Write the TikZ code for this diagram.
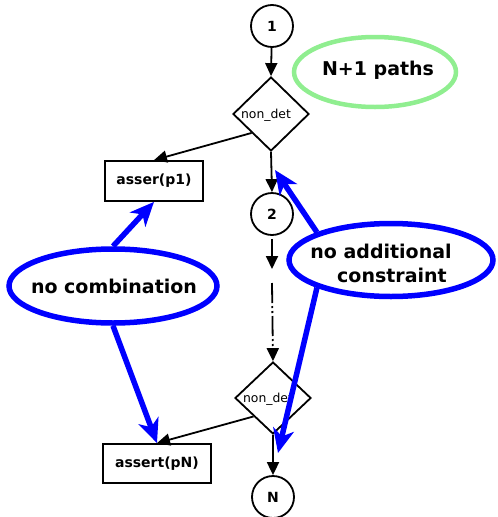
\documentclass[tikz,border=0pt]{standalone}
\usepackage{fontspec}
\setmainfont{DejaVu Sans}
\usetikzlibrary{shapes.geometric,arrows.meta,calc}
\definecolor{lgreen}{RGB}{144,238,144}
\begin{document}
\begin{tikzpicture}[x=1pt,y=-1pt,
  circ/.style={draw,circle,line width=1.8pt,minimum size=42pt,inner sep=0pt,font=\fontsize{14}{16}\selectfont\bfseries},
  dia/.style={draw,diamond,line width=1.8pt,minimum width=76pt,minimum height=74pt,inner sep=0pt},
  dtext/.style={font=\fontsize{12.4}{14}\selectfont,inner sep=0pt},
  box/.style={draw,rectangle,line width=1.8pt,inner sep=0pt,font=\fontsize{14}{16}\selectfont\bfseries},
  bell/.style={draw=blue,ellipse,line width=5.5pt,inner sep=0pt},
  gell/.style={draw=lgreen,ellipse,line width=4.5pt,inner sep=0pt},
  big/.style={font=\fontsize{19}{24}\selectfont\bfseries,inner sep=0pt},
  arr/.style={line width=1.8pt,-{Triangle[length=13pt,width=12pt]}},
  barr/.style={draw=blue,line width=5.5pt,-{Stealth[length=24pt,width=21pt,inset=7pt]}},
  dd/.style={line width=1.8pt,dash pattern=on 20pt off 3pt on 2pt off 3pt on 2pt off 3pt}
]
\useasboundingbox (0,0) rectangle (498,517);

% flow nodes
\node[circ] (c1) at (272,26) {1};
\node[gell,minimum width=162pt,minimum height=70pt] (ge) at (375,72) {};
\node[big] (gt) at (378,70) {N+1 paths};
\node[dia] (d1) at (271,114) {};
\node[dtext] (d1t) at (266,115) {non\_det};
\node[box,minimum width=98pt,minimum height=40pt] (p1) at (154,181) {asser(p1)};
\node[circ] (c2) at (272,214) {2};
\coordinate (a2end) at (272,269);
\coordinate (dstart) at (272,283);
\node[dia,minimum width=76pt,minimum height=72pt] (d2) at (273,398) {};
\node[dtext] (d2t) at (268,399) {non\_det};
\node[box,minimum width=108pt,minimum height=39pt] (pN) at (157,463.5) {assert(pN)};
\node[circ] (cN) at (273,497) {N};

% blue annotation ellipses
\node[bell,minimum width=208pt,minimum height=74pt] (nc) at (113,286) {};
\node[big] (nct) at (114,286) {no combination};
\node[bell,minimum width=204pt,minimum height=73pt] (nac) at (391,260) {};
\node[big,align=center] (nact) at (392,263) {no additional\kern22pt\\constraint};
\coordinate (t3) at (275,170);
\coordinate (t4) at (278,453);

% black connectors
\draw[arr] (c1) -- (d1.north);
\draw[arr] ($(d1.west)!0.5!(d1.south)$) -- (p1.north);
\draw[arr] (d1.south) -- (c2.north);
\draw[arr,shorten <=3pt] (c2.south) -- (a2end);
\draw[dd,-{Triangle[length=13pt,width=12pt]}] (dstart) -- (d2.north);
\draw[arr] ($(d2.west)!0.5!(d2.south)$) -- (pN.north);
\draw[arr] (d2.south) -- (cN.north);

% blue connectors
\draw[barr] (nc.north) -- (p1.south);
\draw[barr] (nc.south) -- (pN.north);
\draw[barr] (nac.north west) -- (t3);
\draw[barr] (nac.south west) -- (t4);
\end{tikzpicture}
\end{document}
